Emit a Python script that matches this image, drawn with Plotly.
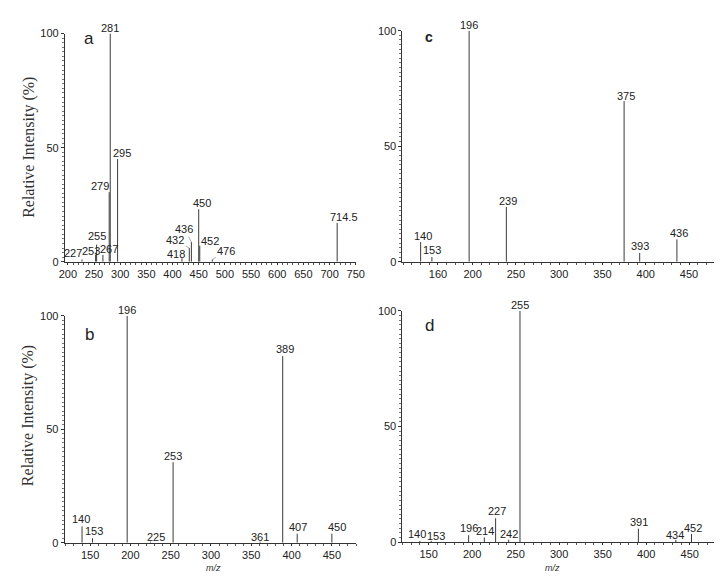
import plotly.graph_objects as go

# ---------------- data ----------------
a_mz = [227, 253, 255, 267, 279, 281, 295, 418, 432, 436, 450, 452, 476, 714.5]
a_int = [1, 3, 7.5, 3, 30.5, 100, 45, 1.5, 6, 8.6, 23, 7, 1, 17]

b_mz = [140, 153, 196, 225, 253, 361, 389, 407, 450]
b_int = [7.2, 2, 100, 0.5, 35.5, 0.5, 82.3, 4, 4]

c_mz = [140, 153, 196, 239, 375, 393, 436]
c_int = [8.5, 2, 100, 23.7, 69.5, 3.8, 9.7]

d_mz = [140, 153, 196, 214, 227, 242, 255, 391, 434, 452]
d_int = [0.5, 0.5, 3, 2, 10.3, 1, 100, 5.8, 1, 3.5]

a_ticks = [200, 250, 300, 350, 400, 450, 500, 550, 600, 650, 700, 750]
b_ticks = [150, 200, 250, 300, 350, 400, 450]
c_ticks = [160, 200, 250, 300, 350, 400, 450]
d_ticks = [150, 200, 250, 300, 350, 400, 450]
y_ticks = [0, 50, 100]

# ---------------- style ----------------
NARROW = "Liberation Sans Narrow, Arial Narrow, Liberation Sans, Arial, sans-serif"
SANS = "Liberation Sans, Arial, sans-serif"
SERIF = "Liberation Serif, Times New Roman, serif"
W, H = 722, 576

# label offsets (text centre relative to peak top, pixels) and leader flag
a_lab = {227: (-9, -6, 0), 253: (-5, -4, 0), 255: (0, -9, 0), 267: (6, -6, 0),
         279: (-9, -6, 0), 281: (0, -6, 0), 295: (4, -6, 0), 418: (-6, -4, 0),
         432: (-14, -8, 1), 436: (-7, -13, 1), 450: (3, -6, 0), 452: (10, -5, 1),
         476: (14, -8, 1), 714.5: (7, -6, 0)}
b_lab = {140: (-1, -7, 0), 153: (1, -7, 0), 196: (0, -6, 0), 225: (5, -5, 0),
         253: (0, -6, 0), 361: (0, -5, 0), 389: (2, -7, 0), 407: (1, -7, 0), 450: (5, -7, 0)}
c_lab = {140: (2, -6, 0), 153: (0, -7, 0), 196: (0, -6, 0), 239: (2, -6, 0),
         375: (2, -5, 0), 393: (0, -7, 0), 436: (2, -6, 0)}
d_lab = {140: (-3, -7, 0), 153: (5, -5, 0), 196: (0, -7, 0), 214: (1, -6, 0),
         227: (1, -7, 0), 242: (0, -6, 0), 255: (0, -6, 0), 391: (1, -7, 0),
         434: (-1, -5, 0), 452: (1, -6, 0)}

panels = [
    ("a", a_mz, a_int, a_lab, "", a_ticks, [194.4, 750], (52, 349), (253, 20), (77, 25), 17, False),
    ("c", c_mz, c_int, c_lab, "2", c_ticks, [119, 479], (396.7, 715), (253, 17), (424, 23), 14, True),
    ("b", b_mz, b_int, b_lab, "3", b_ticks, [118.4, 480], (51.7, 349.3), (540, 308.3), (77, 327), 17, False),
    ("d", d_mz, d_int, d_lab, "4", d_ticks, [120, 478], (396.7, 715), (539.3, 303.3), (424, 318), 17, False),
]

fig = go.Figure()
annotations = []
layout_axes = {}

for name, mz, inten, labs, ax_id, ticks, xr, xdp, ydp, lpos, lsize, lbold in panels:
    xs, ys = [], []
    for m, v in zip(mz, inten):
        xs += [m, m, None]
        ys += [0, v, None]
    fig.add_trace(go.Scatter(x=xs, y=ys, mode="lines", xaxis="x" + ax_id, yaxis="y" + ax_id,
                             line=dict(color="#3a3a3a", width=1), showlegend=False,
                             hoverinfo="skip"))
    for m, v in zip(mz, inten):
        dx, dy, leader = labs[m]
        annotations.append(dict(
            x=m, y=v, xref="x" + ax_id, yref="y" + ax_id, text=str(m),
            showarrow=True, ax=dx, ay=dy, arrowhead=0, arrowwidth=0.8, standoff=0,
            arrowcolor="#9a9a9a" if leader else "rgba(0,0,0,0)",
            font=dict(family=NARROW, size=11, color="#222")))
    axis_common = dict(showline=True, linecolor="#333", linewidth=1, showgrid=False,
                       zeroline=False, ticks="outside", tickcolor="#333",
                       tickfont=dict(family=NARROW, size=11, color="#222"))
    layout_axes["xaxis" + ax_id] = dict(
        axis_common, range=xr, tickmode="array", tickvals=ticks, ticklen=2,
        domain=[xdp[0] / W, xdp[1] / W], anchor="y" + ax_id,
        minor=dict(tickmode="linear", dtick=10, tick0=0, ticks="outside", ticklen=2,
                   tickcolor="#555", showgrid=False))
    layout_axes["yaxis" + ax_id] = dict(
        axis_common, range=[0, 100], tickmode="array", tickvals=y_ticks, ticklen=3,
        domain=[1 - ydp[0] / H, 1 - ydp[1] / H], anchor="x" + ax_id,
        minor=dict(tickmode="linear", dtick=2, tick0=0, ticks="outside", ticklen=2,
                   tickcolor="#777", showgrid=False))
    annotations.append(dict(
        x=lpos[0] / W, y=1 - lpos[1] / H, xref="paper", yref="paper",
        xanchor="center", yanchor="middle",
        text=f"<b>{name}</b>" if lbold else name, showarrow=False,
        font=dict(family=SANS, size=lsize, color="#222")))

# y axis titles
for yc in (136, 410):
    annotations.append(dict(
        x=15 / W, y=1 - yc / H, xref="paper", yref="paper", text="Relative Intensity (%)",
        xanchor="center", yanchor="middle",
        textangle=-90, showarrow=False, font=dict(family=SERIF, size=16, color="#333")))
# m/z labels
for xc in (204, 550):
    annotations.append(dict(
        x=xc / W, y=1 - 566 / H, xref="paper", yref="paper", text="<i>m/z</i>",
        xanchor="center", yanchor="middle",
        showarrow=False, font=dict(family=NARROW, size=9, color="#333")))

fig.update_layout(
    width=W, height=H, margin=dict(l=0, r=0, t=0, b=0),
    paper_bgcolor="white", plot_bgcolor="white",
    annotations=annotations, **layout_axes)

fig.write_html("out.html")
